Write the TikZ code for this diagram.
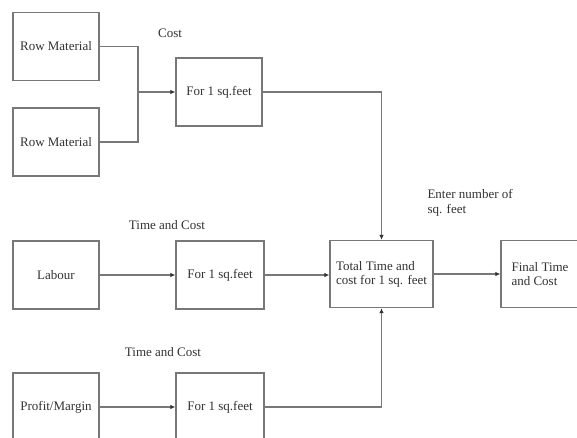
\documentclass[tikz,border=0pt]{standalone}
\usepackage{fontspec}
\setmainfont{Liberation Serif}
\usepackage{tikz}
\usetikzlibrary{positioning, arrows.meta}
\definecolor{lineagris}{RGB}{120, 120, 120}
\definecolor{textogris}{RGB}{50, 50, 50}

\begin{document}
\begin{tikzpicture}[x=1pt, y=-1pt,
    caja/.style={draw=lineagris, line width=1.3pt, minimum width=86pt, minimum height=68pt,
                 inner sep=2pt, font=\fontsize{13}{14}\selectfont, text=textogris, align=left},
    rotulo/.style={font=\fontsize{13}{15}\selectfont, text=textogris, align=left},
    flecha/.style={-{Latex[length=5pt, width=4.5pt, color=textogris]}, lineagris, line width=1.3pt},
    linea/.style={lineagris, line width=1.3pt}]
        \useasboundingbox (0,0) rectangle (577,437);
        \clip (0,0) rectangle (577,437);
        \fill[white] (0,0) rectangle (577,437);
        % boxes
        \node[caja] (rmA)    at (56,46.5) {Row Material};
        \node[caja] (rmB)    at (56,142)  {Row Material};
        \node[caja] (labour) at (56,275)  {Labour};
        \node[caja] (profit) at (56,407)  {Profit/Margin};
        \node[caja] (costA)  at (219,92)  {For 1 sq.feet};
        \node[caja, minimum width=88pt] (costB) at (220,275) {For 1 sq.feet};
        \node[caja, minimum width=88pt] (costC) at (220,407) {For 1 sq.feet};
        \node[caja, minimum width=103pt, minimum height=67pt] (total) at (381.5,274) {Total Time and\\cost for 1 sq. feet};
        \node[caja, minimum width=78pt, minimum height=67pt] (final) at (540,274) {Final Time\\and Cost};
        \coordinate (junta) at (138,92);
        % labels
        \node[rotulo] (lblCost)  at (170,33)  {Cost};
        \node[rotulo] (lblTimeA) at (167,225) {Time and Cost};
        \node[rotulo] (lblTimeB) at (163,352) {Time and Cost};
        \node[rotulo, anchor=west] (lblEnter) at (424,203) {Enter number of\\sq. feet};
        % connectors
        \draw[linea] (rmA.east) -| (junta);
        \draw[linea] (rmB.east) -| (junta);
        \draw[flecha] (junta) -- (costA.west);
        \draw[flecha] (labour.east) -- (costB.west);
        \draw[flecha] (profit.east) -- (costC.west);
        \draw[flecha] (costA.east) -| (total.north);
        \draw[flecha] (costB.east) -- (costB.east -| total.west);
        \draw[flecha] (costC.east) -| (total.south);
        \draw[flecha] (total.east) -- (final.west);
      \end{tikzpicture}
\end{document}
